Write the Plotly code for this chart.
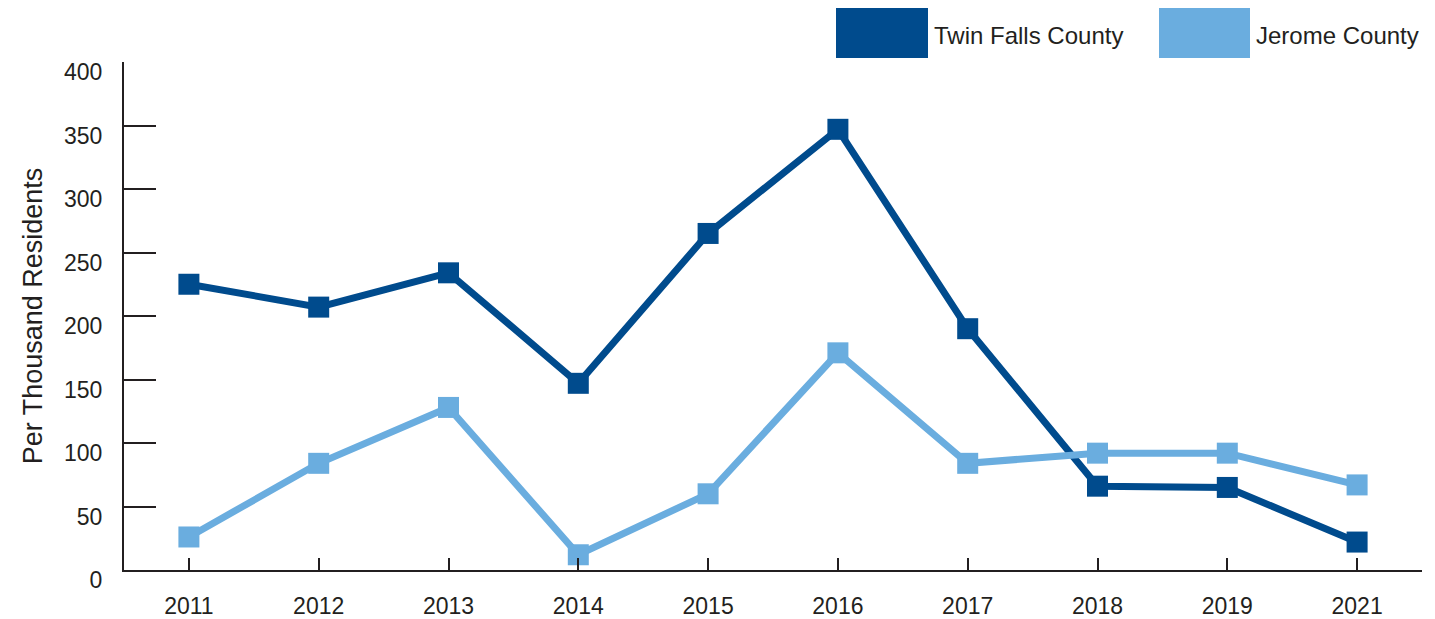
import plotly.graph_objects as go

years = ["2011", "2012", "2013", "2014", "2015", "2016", "2017", "2018", "2019", "2021"]
twin_falls = [225, 207, 234, 147, 265, 347, 190, 66, 65, 22]
jerome = [26, 84, 128, 12, 60, 171, 84, 92, 92, 67]
y_ticks = [0, 50, 100, 150, 200, 250, 300, 350, 400]

dark = "#004B8D"
light = "#6AADDF"
ink = "#231F20"
font = "Liberation Sans, Arial, sans-serif"

L, R, T, B = 124, 1422, 62, 570
W, H = R - L, B - T

fig = go.Figure()
fig.add_trace(go.Scatter(x=years, y=twin_falls, mode="lines+markers", name="Twin Falls County",
                         line=dict(color=dark, width=7),
                         marker=dict(symbol="square", size=21, color=dark)))
fig.add_trace(go.Scatter(x=years, y=jerome, mode="lines+markers", name="Jerome County",
                         line=dict(color=light, width=7),
                         marker=dict(symbol="square", size=21, color=light)))

# legend drawn as big swatches
fig.add_shape(type="rect", xref="paper", yref="paper", x0=(836-L)/W, x1=(928-L)/W,
              y0=(B-58)/H, y1=(B-8)/H, fillcolor=dark, line=dict(width=0), layer="above")
fig.add_shape(type="rect", xref="paper", yref="paper", x0=(1159-L)/W, x1=(1250-L)/W,
              y0=(B-58)/H, y1=(B-8)/H, fillcolor=light, line=dict(width=0), layer="above")
fig.add_annotation(xref="paper", yref="paper", x=(932-L)/W, y=(B-35)/H, xanchor="left",
                   yanchor="middle", text="Twin Falls County", showarrow=False,
                   font=dict(size=24, color=ink, family=font))
fig.add_annotation(xref="paper", yref="paper", x=(1254-L)/W, y=(B-35)/H, xanchor="left",
                   yanchor="middle", text="Jerome County", showarrow=False,
                   font=dict(size=24, color=ink, family=font))

fig.update_layout(
    width=1435, height=619,
    margin=dict(l=L, r=1435 - R, t=T, b=619 - B, autoexpand=False),
    paper_bgcolor="white", plot_bgcolor="white",
    showlegend=False,
    font=dict(family=font, color=ink, size=23),
    xaxis=dict(type="category", range=[-0.5, 9.5], showgrid=False, zeroline=False,
               showline=True, linecolor=ink, linewidth=2, automargin=False,
               ticks="inside", ticklen=12, tickwidth=2, tickcolor=ink,
               tickfont=dict(size=23, color=ink), ticklabelstandoff=14),
    yaxis=dict(range=[0, 400], tickvals=y_ticks, showgrid=False, zeroline=False,
               showline=True, linecolor=ink, linewidth=2, automargin=False,
               ticks="inside", ticklen=32, tickwidth=2, tickcolor=ink,
               ticklabelshift=10,
               tickfont=dict(size=23, color=ink), ticklabelstandoff=15,
               title=dict(text="Per Thousand Residents", font=dict(size=27, color=ink), standoff=14)),
)

fig.write_html("out.html", config={"displayModeBar": False},
               post_script="document.body.style.margin='0';document.body.style.overflow='hidden';")
